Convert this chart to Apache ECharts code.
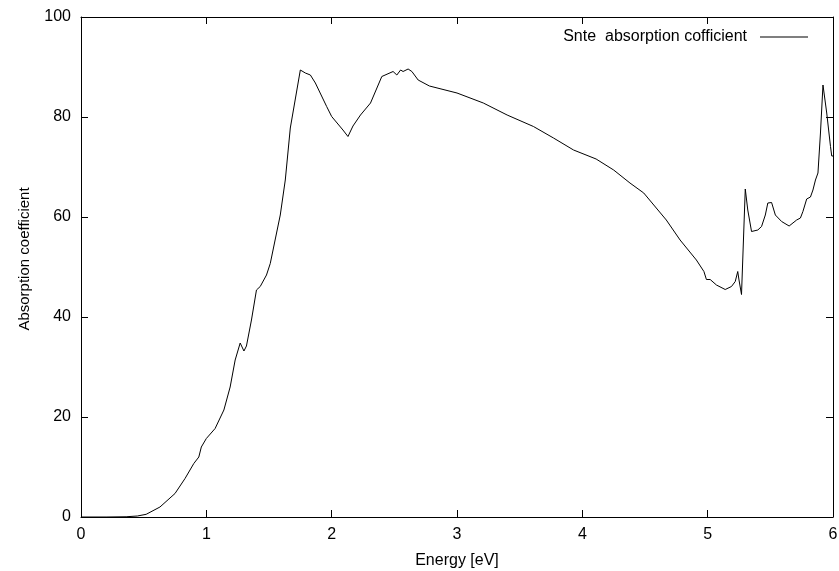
<!DOCTYPE html>
<html><head><meta charset="utf-8">
<script src="https://cdn.jsdelivr.net/npm/echarts@6/dist/echarts.min.js"></script>
<style>html,body{margin:0;padding:0;background:#fff}#c{width:839px;height:571px}</style>
</head><body><div id="c"></div>
<script>
const energy = [0, 0.2, 0.36, 0.45, 0.52, 0.63, 0.75, 0.83, 0.90, 0.94, 0.96, 1.00, 1.07, 1.14, 1.19, 1.23, 1.27, 1.30, 1.32, 1.36, 1.40, 1.43, 1.48, 1.51, 1.59, 1.63, 1.67, 1.75, 1.79, 1.83, 1.87, 1.96, 2.00, 2.09, 2.13, 2.17, 2.23, 2.31, 2.40, 2.49, 2.52, 2.55, 2.57, 2.61, 2.64, 2.69, 2.78, 3.00, 3.21, 3.40, 3.61, 3.77, 3.93, 4.11, 4.25, 4.38, 4.49, 4.67, 4.78, 4.91, 4.97, 4.99, 5.02, 5.07, 5.14, 5.19, 5.22, 5.24, 5.25, 5.27, 5.30, 5.32, 5.35, 5.40, 5.43, 5.46, 5.48, 5.51, 5.54, 5.59, 5.65, 5.71, 5.74, 5.76, 5.79, 5.82, 5.84, 5.86, 5.88, 5.90, 5.92, 5.95, 5.98, 5.99, 6.00];
const absorption = [0, 0, 0.05, 0.2, 0.54, 2.0, 4.7, 7.7, 10.7, 12.0, 14.0, 15.7, 17.7, 21.4, 26.0, 31.4, 34.8, 33.2, 34.2, 39.4, 45.4, 46.1, 48.4, 50.7, 60.4, 67.4, 77.8, 89.4, 88.8, 88.4, 86.8, 82.1, 80.1, 77.4, 76.1, 78.2, 80.4, 82.8, 88.1, 89.1, 88.4, 89.4, 89.1, 89.6, 89.1, 87.4, 86.2, 84.8, 82.8, 80.4, 78.1, 75.8, 73.4, 71.6, 69.4, 66.8, 64.8, 59.4, 55.4, 51.4, 49.1, 47.5, 47.5, 46.4, 45.5, 46.1, 47.1, 49.1, 47.4, 44.5, 65.6, 61.4, 57.1, 57.4, 58.1, 60.4, 62.8, 62.9, 60.4, 59.1, 58.2, 59.4, 59.8, 61.1, 63.6, 64.0, 65.4, 67.4, 68.8, 76.8, 86.4, 80.8, 74.1, 72.2, 72.2];
const seriesName = 'Snte  absorption cofficient';
const xTitle = 'Energy [eV]';
const yTitle = 'Absorption coefficient';

const chart = echarts.init(document.getElementById('c'));
const font = 'Liberation Sans, Arial, sans-serif';
const mkLine = () => ({show: true, onZero: false, lineStyle: {color: '#000', width: 1}});
const mkTick = () => ({show: true, inside: true, length: 7, lineStyle: {color: '#000', width: 1}});
chart.setOption({
  animation: false,
  backgroundColor: '#fff',
  grid: {left: 81, right: 6, top: 17, bottom: 54, containLabel: false, outerBoundsMode: 'none'},
  legend: {
    show: true, data: [seriesName], right: 26, top: 24, align: 'right',
    icon: 'rect', itemWidth: 48, itemHeight: 1, itemStyle: {color: '#000'},
    textStyle: {fontFamily: font, fontSize: 16, color: '#000', padding: [0, 8, 0, 0]}
  },
  xAxis: [
    {type: 'value', min: 0, max: 6, interval: 1, position: 'bottom',
     name: xTitle, nameLocation: 'middle', nameGap: 36,
     nameTextStyle: {fontFamily: font, fontSize: 16, color: '#000'},
     axisLine: mkLine(), axisTick: mkTick(), splitLine: {show: false},
     axisLabel: {fontFamily: font, fontSize: 16, color: '#000', margin: 10}},
    {type: 'value', min: 0, max: 6, interval: 1, position: 'top',
     axisLine: mkLine(), axisTick: mkTick(), splitLine: {show: false}, axisLabel: {show: false}}
  ],
  yAxis: [
    {type: 'value', min: 0, max: 100, interval: 20, position: 'left',
     name: yTitle, nameLocation: 'middle', nameGap: 49, nameRotate: 90,
     nameTextStyle: {fontFamily: font, fontSize: 15, color: '#000', padding: [0, 0, 0, 16]},
     axisLine: mkLine(), axisTick: mkTick(), splitLine: {show: false},
     axisLabel: {fontFamily: font, fontSize: 16, color: '#000', margin: 10}},
    {type: 'value', min: 0, max: 100, interval: 20, position: 'right',
     axisLine: mkLine(), axisTick: mkTick(), splitLine: {show: false}, axisLabel: {show: false}}
  ],
  series: [{
    name: seriesName, type: 'line', showSymbol: false, symbol: 'none',
    data: energy.map((e, i) => [e, absorption[i]]),
    lineStyle: {color: '#000', width: 1}, itemStyle: {color: '#000'}
  }]
});
</script></body></html>
